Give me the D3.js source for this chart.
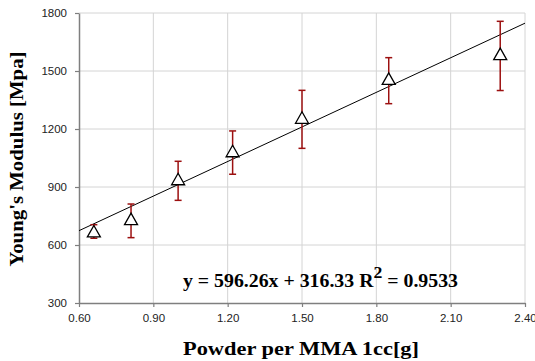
<!DOCTYPE html>
<html>
<head>
<meta charset="utf-8">
<script src="https://cdn.jsdelivr.net/npm/d3@7"></script>
<style>
  body { margin: 0; background: #fff; }
  svg { display: block; }
</style>
</head>
<body>
<div id="chart"></div>
<script>
// data
const powder = [0.66, 0.81, 1.00, 1.22, 1.50, 1.85, 2.30];
const modulus = [670, 734, 940, 1085, 1258, 1459, 1587];
const errUp = [35, 78, 93, 105, 142, 110, 170];
const errDown = [35, 96, 109, 119, 158, 128, 188];
const xTicks = [0.6, 0.9, 1.2, 1.5, 1.8, 2.1, 2.4];
const yTicks = [300, 600, 900, 1200, 1500, 1800];
const slope = 596.26, intercept = 316.33, r2 = 0.9533;

const width = 535, height = 361;
const margin = { top: 13, right: 10, bottom: 58, left: 79 };
const serif = 'Liberation Serif, Times New Roman, serif';

const svg = d3.select('#chart').append('svg')
  .attr('width', width)
  .attr('height', height);

const x = d3.scaleLinear().domain([0.6, 2.4]).range([margin.left, width - margin.right]);
const y = d3.scaleLinear().domain([300, 1800]).range([height - margin.bottom, margin.top]);

// grid
svg.append('g').selectAll('line')
  .data(xTicks.slice(1))
  .join('line')
  .attr('x1', d => x(d)).attr('x2', d => x(d))
  .attr('y1', y(300)).attr('y2', y(1800))
  .attr('stroke', '#d4d4d4').attr('stroke-width', 1);

svg.append('g').selectAll('line')
  .data(yTicks.slice(1))
  .join('line')
  .attr('x1', x(0.6)).attr('x2', x(2.4))
  .attr('y1', d => y(d)).attr('y2', d => y(d))
  .attr('stroke', '#d4d4d4').attr('stroke-width', 1);

// axes
const xAxis = svg.append('g')
  .attr('transform', `translate(0,${y(300)})`)
  .call(d3.axisBottom(x).tickValues(xTicks).tickFormat(d3.format('.2f')).tickSize(4).tickSizeOuter(0));

const yAxis = svg.append('g')
  .attr('transform', `translate(${x(0.6)},0)`)
  .call(d3.axisLeft(y).tickValues(yTicks).tickFormat(d3.format('d')).tickSize(4).tickSizeOuter(0));

[xAxis, yAxis].forEach(a => {
  a.select('.domain').attr('stroke', '#7f7f7f').attr('stroke-width', 1.5);
  a.selectAll('.tick line').attr('stroke', '#7f7f7f').attr('stroke-width', 1.2);
  a.selectAll('.tick text')
    .attr('font-family', 'Liberation Sans, Arial, sans-serif')
    .attr('font-size', 11.5)
    .attr('fill', '#222');
});
xAxis.selectAll('.tick text').attr('dy', '1.05em');
yAxis.selectAll('.tick text').attr('x', -12);

// trendline
svg.append('line')
  .attr('x1', x(0.6)).attr('y1', y(slope * 0.6 + intercept))
  .attr('x2', x(2.4)).attr('y2', y(slope * 2.4 + intercept))
  .attr('stroke', '#000').attr('stroke-width', 1);

// error bars
const pts = powder.map((p, i) => ({ p, v: modulus[i], hi: modulus[i] + errUp[i], lo: modulus[i] - errDown[i] }));
const eb = svg.append('g').attr('stroke', '#9c1010').attr('stroke-width', 1.5);
eb.selectAll('line.bar').data(pts).join('line')
  .attr('x1', d => x(d.p)).attr('x2', d => x(d.p))
  .attr('y1', d => y(d.hi)).attr('y2', d => y(d.lo));
eb.selectAll('line.top').data(pts).join('line')
  .attr('x1', d => x(d.p) - 3.5).attr('x2', d => x(d.p) + 3.5)
  .attr('y1', d => y(d.hi)).attr('y2', d => y(d.hi));
eb.selectAll('line.bot').data(pts).join('line')
  .attr('x1', d => x(d.p) - 3.5).attr('x2', d => x(d.p) + 3.5)
  .attr('y1', d => y(d.lo)).attr('y2', d => y(d.lo));

// triangle markers
svg.append('g').selectAll('path').data(pts).join('path')
  .attr('transform', d => `translate(${x(d.p)},${y(d.v)})`)
  .attr('d', 'M0,-6 L6.5,5.5 L-6.5,5.5 Z')
  .attr('fill', '#fff').attr('stroke', '#000').attr('stroke-width', 1.3);

// equation
const eq = svg.append('text')
  .attr('x', 183).attr('y', 287)
  .attr('font-family', serif)
  .attr('font-weight', 'bold').attr('font-size', 19)
  .attr('textLength', 275).attr('lengthAdjust', 'spacingAndGlyphs')
  .attr('fill', '#000');
eq.append('tspan').text(`y = ${slope}x + ${intercept} R`);
eq.append('tspan').attr('dy', -9).attr('font-size', 17).text('2');
eq.append('tspan').attr('dy', 9).text(` = ${r2}`);

// axis titles
svg.append('text')
  .attr('x', 183).attr('y', 355)
  .attr('font-family', serif)
  .attr('font-weight', 'bold').attr('font-size', 19)
  .attr('textLength', 236).attr('lengthAdjust', 'spacingAndGlyphs')
  .text('Powder per MMA 1cc[g]');

svg.append('text')
  .attr('transform', 'translate(23,266.5) rotate(-90)')
  .attr('font-family', serif)
  .attr('font-weight', 'bold').attr('font-size', 19)
  .attr('textLength', 215).attr('lengthAdjust', 'spacingAndGlyphs')
  .text("Young's Modulus [Mpa]");
</script>
</body>
</html>
